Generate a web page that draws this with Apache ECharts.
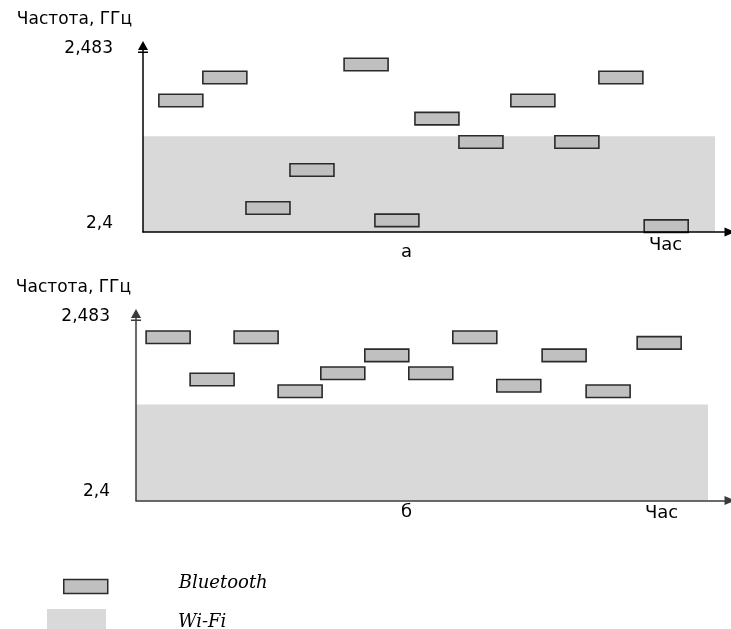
<!DOCTYPE html>
<html><head><meta charset="utf-8">
<script src="https://cdn.jsdelivr.net/npm/echarts@6/dist/echarts.min.js"></script>
<style>html,body{margin:0;padding:0;background:#fff}#c{width:731px;height:629px}</style>
</head><body><div id="c"></div>
<script>
// ---- data ----
const yTicks = [2.4, 2.483];                 // frequency tick labels (GHz)
const wifiBand = [2.4, 2.4454];              // Wi-Fi occupied frequency band (GHz)
const wifiTime = [0, 13];                    // Wi-Fi time span (slots)
const slotLen = 1;                           // Bluetooth hop duration (slots)
// panel а: hop start times and centre frequencies
const startsA = [0.36, 1.36, 2.34, 3.34, 4.57, 5.27, 6.18, 7.18, 8.36, 9.36, 10.36, 11.39];
const freqA   = [2.4624, 2.4733, 2.4114, 2.4294, 2.4795, 2.4055, 2.4538, 2.4427, 2.4624, 2.4427, 2.4733, 2.4028];
// panel б: hop start times and centre frequencies (adaptive hopping)
const startsB = [0.23, 1.23, 2.23, 3.23, 4.2, 5.2, 6.2, 7.2, 8.2, 9.23, 10.23, 11.39];
const freqB   = [2.4773, 2.4573, 2.4773, 2.4517, 2.4602, 2.4687, 2.4602, 2.4773, 2.4543, 2.4687, 2.4517, 2.4746];
const yName = 'Частота, ГГц';
const xName = 'Час';
const panelLabels = ['а', 'б'];
const seriesNames = ['Bluetooth', 'Wi-Fi'];

// ---- styles ----
const FONT = 'DejaVu Sans';
const BT_FILL = '#c0c0c0', BT_STROKE = '#2a2a2a', WIFI_FILL = '#d9d9d9';
const yArrow = 'path://M5,0L10,9L0,9Z M0,10.5L10,10.5L10,12L0,12Z';

const chart = echarts.init(document.getElementById('c'));

function btRender(params, api) {
  const s = api.value(0), f = api.value(1);
  const p0 = api.coord([s, f]);
  const p1 = api.coord([s + slotLen, f]);
  const h = 12.5;
  return {type: 'rect', shape: {x: p0[0], y: p0[1] - h / 2, width: p1[0] - p0[0], height: h},
    style: {fill: BT_FILL, stroke: BT_STROKE, lineWidth: 1.6}};
}
function wifiRender(params, api) {
  const p0 = api.coord([api.value(0), api.value(3)]);
  const p1 = api.coord([api.value(1), api.value(2)]);
  return {type: 'rect', shape: {x: p0[0], y: p0[1], width: p1[0] - p0[0], height: p1[1] - p0[1]},
    style: {fill: WIFI_FILL}};
}

function xAxisCfg(gi, max, color, gap) {
  return {type: 'value', gridIndex: gi, min: 0, max: max, z: 5,
    axisLine: {show: true, lineStyle: {color: color, width: 1.5}, symbol: ['none', 'triangle'], symbolSize: [9, 11]},
    axisTick: {show: false}, axisLabel: {show: false}, splitLine: {show: false},
    name: xName, nameLocation: 'end', nameGap: gap,
    nameTextStyle: {fontFamily: FONT, fontSize: 18, color: '#000', align: 'left', verticalAlign: 'top', lineHeight: 18, padding: [4, 0, 0, 0]}};
}
function yAxisCfg(gi, color, padR, margin) {
  return {type: 'value', gridIndex: gi, min: 2.4, max: 2.4878, z: 5,
    axisLine: {show: true, lineStyle: {color: color, width: 1.5}, symbol: ['none', yArrow], symbolSize: [10, 14]},
    axisTick: {show: false}, splitLine: {show: false},
    axisLabel: {customValues: yTicks, formatter: v => String(v).replace('.', ','), fontFamily: FONT, fontSize: 17,
      color: '#000', verticalAlign: 'bottom', margin: margin},
    name: yName, nameLocation: 'end', nameGap: 27,
    nameTextStyle: {fontFamily: FONT, fontSize: 17, color: '#000', align: 'right', verticalAlign: 'middle', padding: [0, padR, 0, 0]}};
}
const legText = {fontFamily: 'DejaVu Serif', fontStyle: 'italic', fontSize: 18, color: '#000'};

chart.setOption({
  animation: false,
  backgroundColor: '#fff',
  title: [
    {text: panelLabels[0], left: 401, top: 243, padding: 0, textStyle: {fontFamily: FONT, fontSize: 18, fontWeight: 'normal', color: '#000'}},
    {text: panelLabels[1], left: 401, top: 503, padding: 0, textStyle: {fontFamily: FONT, fontSize: 18, fontWeight: 'normal', color: '#000'}}
  ],
  legend: [
    {data: [{name: seriesNames[0], icon: 'rect', itemStyle: {color: BT_FILL, borderColor: BT_STROKE, borderWidth: 1.5}}],
     left: 63, top: 574, padding: 0, itemWidth: 44, itemHeight: 14, selectedMode: false,
     formatter: '{t|{name}}',
     textStyle: Object.assign({}, legText, {rich: {t: Object.assign({}, legText, {padding: [0, 0, 7, 66]})}})},
    {data: [{name: seriesNames[1], icon: 'rect', itemStyle: {color: WIFI_FILL, borderWidth: 0}}],
     left: 47, top: 609, padding: 0, itemWidth: 59, itemHeight: 20, selectedMode: false,
     formatter: '{t|{name}}',
     textStyle: Object.assign({}, legText, {rich: {t: Object.assign({}, legText, {padding: [7, 0, 0, 67]})}})}
  ],
  grid: [
    {left: 143, top: 47, width: 587, height: 185},
    {left: 136, top: 315, width: 594, height: 185.5}
  ],
  xAxis: [xAxisCfg(0, 13.34, '#000', -81), xAxisCfg(1, 13.5, '#3a3a3a', -85)],
  yAxis: [yAxisCfg(0, '#000', 11, 30), yAxisCfg(1, '#3a3a3a', 5, 26)],
  series: [
    {name: seriesNames[1], type: 'custom', xAxisIndex: 0, yAxisIndex: 0, z: 1, renderItem: wifiRender,
     encode: {x: [0, 1], y: [2, 3]}, data: [[wifiTime[0], wifiTime[1], wifiBand[0], wifiBand[1]]]},
    {name: seriesNames[1], type: 'custom', xAxisIndex: 1, yAxisIndex: 1, z: 1, renderItem: wifiRender,
     encode: {x: [0, 1], y: [2, 3]}, data: [[wifiTime[0], wifiTime[1], wifiBand[0], wifiBand[1]]]},
    {name: seriesNames[0], type: 'custom', xAxisIndex: 0, yAxisIndex: 0, z: 3, renderItem: btRender,
     encode: {x: 0, y: 1}, data: startsA.map((s, i) => [s, freqA[i]])},
    {name: seriesNames[0], type: 'custom', xAxisIndex: 1, yAxisIndex: 1, z: 3, renderItem: btRender,
     encode: {x: 0, y: 1}, data: startsB.map((s, i) => [s, freqB[i]])}
  ]
});
</script>
</body></html>
